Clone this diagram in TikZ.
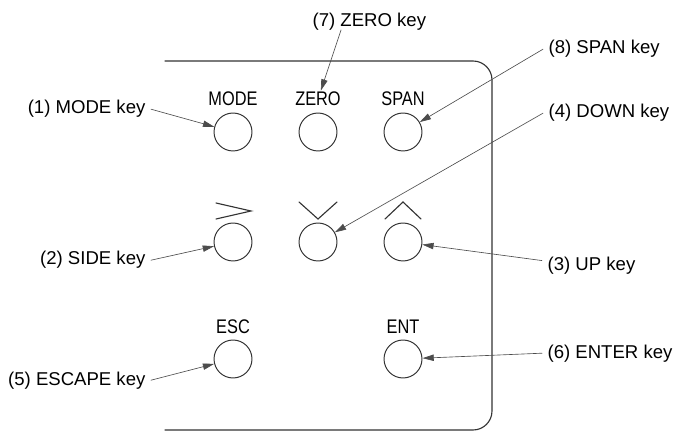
\documentclass[tikz,border=0pt]{standalone}
\usepackage{fontspec}
\setmainfont{Liberation Sans}
\newfontfamily\keyfont[FakeStretch=0.83]{Liberation Sans}
\usetikzlibrary{arrows.meta}

\tikzset{
 key/.style={circle,draw=black!80,line width=.7pt,minimum size=27pt,inner sep=0pt},
 keylab/.style={font=\keyfont\fontsize{14}{15}\selectfont,inner sep=1pt,anchor=base},
 callout/.style={font=\fontsize{13.2}{15}\selectfont,inner sep=0pt,outer sep=4pt},
 pointer/.style={->,draw=black!70,line width=.45pt},
 sym/.style={line width=.8pt,draw=black!80},
}

\begin{document}
\begin{tikzpicture}[x=.025cm,y=-.025cm,>={Triangle[length=8pt,width=4.5pt]},line cap=round]
\useasboundingbox (0,0) rectangle (676,431);
% panel outline, open on the left
\draw[line width=.8pt,draw=black!80,rounded corners=13.5pt] (165,61) -- (492,61) -- (492,430) -- (165,430);
% keys
\foreach \name/\x/\y in {mode/233/132,zero/318/132,span/403/132,side/233/242,down/318/242,up/403/242,esc/233/359,ent/403/359}
 \node[key] (\name) at (\x,\y) {};
\node[keylab] (modelab) at (233,106) {MODE};
\node[keylab] (zerolab) at (318,106) {ZERO};
\node[keylab] (spanlab) at (403,106) {SPAN};
\node[keylab] (esclab) at (233,333) {ESC};
\node[keylab] (entlab) at (403,333) {ENT};
\draw[sym] ([shift={(-17,-39)}]side.center) -- ++(35,8) -- ++(-35,8);
\draw[sym] ([shift={(-19,-40)}]down.center) -- ++(19,17) -- ++(19,-17);
\draw[sym] ([shift={(-18,-23)}]up.center) -- ++(18,-17) -- ++(18,17);
% callouts
\node[callout,anchor=base east] (tmode) at (151,114) {(1) MODE key};
\node[callout,anchor=base east] (tside) at (151,265) {(2) SIDE key};
\node[callout,anchor=base west] (tup) at (542,271) {(3) UP key};
\node[callout,anchor=base west] (tdown) at (543,118) {(4) DOWN key};
\node[callout,anchor=base east] (tesc) at (151,385) {(5) ESCAPE key};
\node[callout,anchor=base west] (tent) at (542,358) {(6) ENTER key};
\node[callout,anchor=base west] (tzero) at (307,27) {(7) ZERO key};
\node[callout,anchor=base west] (tspan) at (543,54) {(8) SPAN key};
\coordinate (zfoot) at (341,30);
\draw[pointer] (tmode.east) -- (mode);
\draw[pointer] (tside.east) -- (side);
\draw[pointer] ([yshift=4pt]tup.west) -- (up);
\draw[pointer] (tdown.west) -- (down);
\draw[pointer] (tesc.east) -- (esc);
\draw[pointer] (tent.west) -- (ent);
\draw[pointer] (zfoot) -- (zerolab);
\draw[pointer] (tspan.west) -- (span);
\end{tikzpicture}
\end{document}
